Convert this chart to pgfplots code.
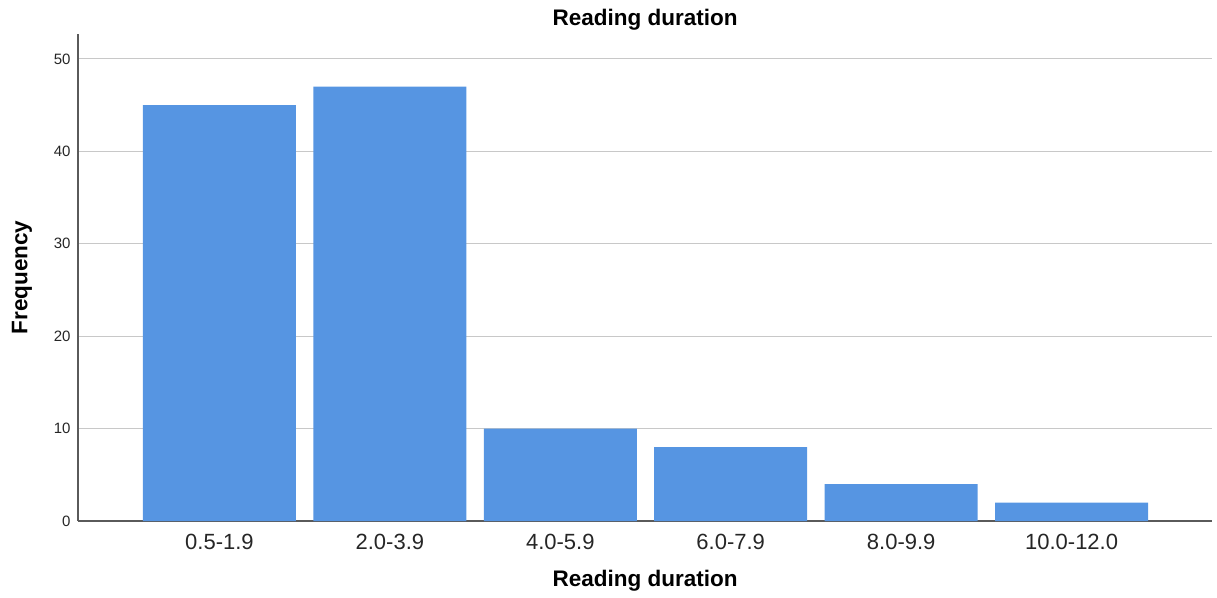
\documentclass[border=0pt]{standalone}
\usepackage{fontspec}
\setmainfont{Liberation Sans}
\usepackage{pgfplots}
\pgfplotsset{compat=1.18}
\definecolor{barblue}{RGB}{86,149,226}
\definecolor{gridgray}{RGB}{200,200,200}
\definecolor{axisgray}{RGB}{90,90,90}
\begin{document}
\begin{tikzpicture}
\useasboundingbox (-78pt,-76pt) rectangle (1139pt,521pt);
\begin{axis}[
  at={(0pt,0pt)}, anchor=south west,
  scale only axis, width=1134pt, height=487pt,
  xmin=-0.830, xmax=5.824, ymin=0, ymax=52.7,
  axis x line=bottom, axis y line=left,
  axis line style={-, draw=axisgray, line width=1.2pt},
  ytick={0,10,20,30,40,50},
  xtick={0,1,2,3,4,5},
  xticklabels={0.5-1.9,2.0-3.9,4.0-5.9,6.0-7.9,8.0-9.9,10.0-12.0},
  major tick length=0pt,
  ymajorgrids, grid style={gridgray, line width=1pt},
  /pgf/number format/assume math mode=true,
  yticklabel style={font=\fontsize{15}{18}\selectfont, text=black!85, xshift=-4pt},
  xticklabel style={font=\fontsize{22}{26}\selectfont, text=black!85, yshift=-10pt},
  title={\textbf{Reading duration}},
  title style={font=\fontsize{22.5}{27}\selectfont, at={(axis description cs:0.5,1.016)}, anchor=center},
  xlabel={\textbf{Reading duration}},
  xlabel style={font=\fontsize{22.5}{27}\selectfont, at={(axis description cs:0.5,-0.123)}, anchor=center},
  ylabel={\textbf{Frequency}},
  ylabel style={font=\fontsize{22.5}{27}\selectfont, at={(axis description cs:-0.0495,0.5)}, anchor=center},
]
\addplot[ybar, bar width=153pt, fill=barblue, draw=none] coordinates {
  (0,45) (1,47) (2,10) (3,8) (4,4) (5,2)
};
\end{axis}
\end{tikzpicture}
\end{document}
